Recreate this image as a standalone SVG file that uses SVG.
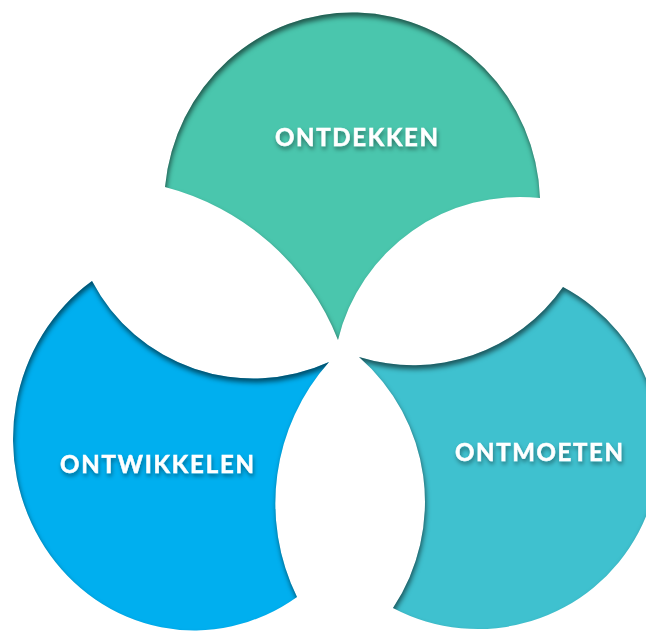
<svg xmlns="http://www.w3.org/2000/svg" width="646" height="631" viewBox="0 0 646 631">
  <defs>
    <filter id="inset" x="-20%" y="-20%" width="140%" height="140%" color-interpolation-filters="sRGB">
      <feComponentTransfer in="SourceAlpha" result="inv">
        <feFuncA type="table" tableValues="1 0"/>
      </feComponentTransfer>
      <feGaussianBlur in="inv" stdDeviation="2.5"/>
      <feOffset dx="0.5" dy="4" result="off"/>
      <feFlood flood-color="#000" flood-opacity="0.55"/>
      <feComposite in2="off" operator="in"/>
      <feComposite in2="SourceAlpha" operator="in" result="shadow"/>
      <feMerge>
        <feMergeNode in="SourceGraphic"/>
        <feMergeNode in="shadow"/>
      </feMerge>
    </filter>
    <filter id="tshadow" x="-20%" y="-50%" width="140%" height="200%">
      <feDropShadow dx="1" dy="3" stdDeviation="2" flood-color="#000" flood-opacity="0.4"/>
    </filter>
  </defs>
  <style>
    .petal { filter: url(#inset); }
    .label { font-family: Lato, "Open Sans", "Liberation Sans", sans-serif; font-weight: 700; font-size: 24px; fill: #ffffff; stroke: #ffffff; stroke-width: 0.5; filter: url(#tshadow); }
  </style>
  <rect width="646" height="631" fill="#ffffff"/>
  <g id="ontdekken">
    <path class="petal" fill="#4AC6AD" d="M 165 187 A 188 193 0 0 1 540 198 A 187 187 0 0 0 338 340 A 255 255 0 0 0 165 187 Z"/>
    <text class="label" x="275" y="146" textLength="163" lengthAdjust="spacing">ONTDEKKEN</text>
  </g>
  <g id="ontwikkelen">
    <path class="petal" fill="#00AFEF" d="M 92 281 A 181 191 0 1 0 297 597 A 213 213 0 0 1 329 362 A 182 182 0 0 1 92 281 Z"/>
    <text class="label" x="60" y="473" textLength="194" lengthAdjust="spacing">ONTWIKKELEN</text>
  </g>
  <g id="ontmoeten">
    <path class="petal" fill="#3FC1CF" d="M 359 357 A 183 183 0 0 0 563 287 A 181 181 0 1 1 393 608 A 192 192 0 0 0 359 357 Z"/>
    <text class="label" x="455" y="461" textLength="168" lengthAdjust="spacing">ONTMOETEN</text>
  </g>
  <g id="connectors"/>
</svg>
